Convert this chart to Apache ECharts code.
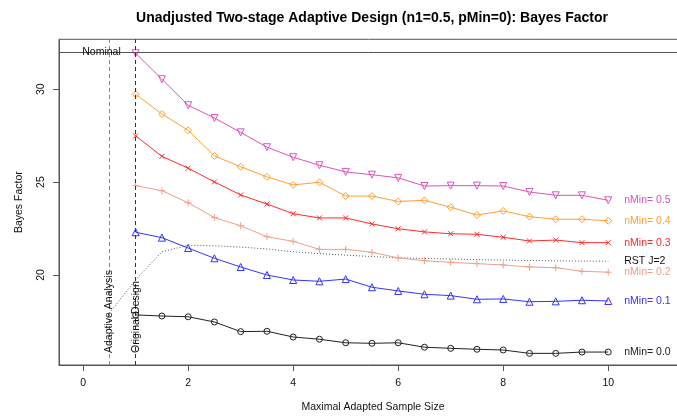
<!DOCTYPE html>
<html>
<head>
<meta charset="utf-8">
<script src="https://cdn.jsdelivr.net/npm/echarts@6/dist/echarts.min.js"></script>
<style>html,body{margin:0;padding:0;background:#fff}#c{width:677px;height:416px}</style>
</head>
<body>
<div id="c"></div>
<script>
const xs = [1,1.5,2,2.5,3,3.5,4,4.5,5,5.5,6,6.5,7,7.5,8,8.5,9,9.5,10];
const nMin05 = [31.94,30.54,29.14,28.45,27.68,26.88,26.34,25.91,25.55,25.40,25.23,24.79,24.81,24.81,24.79,24.47,24.29,24.29,24.02];
const nMin04 = [29.73,28.67,27.79,26.41,25.83,25.28,24.85,24.99,24.25,24.25,23.96,24.02,23.65,23.23,23.45,23.14,23.00,23.00,22.92];
const nMin03 = [27.49,26.39,25.75,25.01,24.31,23.82,23.30,23.07,23.07,22.75,22.49,22.32,22.22,22.19,22.03,21.83,21.88,21.74,21.74];
const nMin02 = [24.81,24.54,23.89,23.09,22.65,22.06,21.81,21.38,21.38,21.22,20.92,20.77,20.68,20.61,20.54,20.43,20.39,20.20,20.15];
const nMin01 = [22.30,22.01,21.45,20.90,20.43,20.00,19.73,19.66,19.78,19.34,19.14,18.96,18.89,18.69,18.71,18.56,18.58,18.64,18.60];
const nMin00 = [17.85,17.79,17.75,17.47,16.95,16.97,16.66,16.54,16.35,16.32,16.35,16.11,16.05,16.00,15.96,15.78,15.78,15.85,15.85];
const rstX = [0.5,1,1.5,2,2.5,3,3.5,4,4.5,5,5.5,6,6.5,7,7.5,8,8.5,9,9.5,10];
const rstJ2 = [17.95,19.75,21.25,21.60,21.57,21.50,21.40,21.25,21.15,21.07,20.99,20.93,20.89,20.86,20.83,20.80,20.78,20.76,20.75,20.74];
const xTicks = [0,2,4,6,8,10];
const yTicks = [20,25,30];
const nominal = 32;
const adaptiveX = 0.5, originalX = 1;

const FONT = '"Liberation Sans", Arial, Helvetica, sans-serif';
const pair = (xa, ya) => xa.map((x, i) => [x, ya[i]]);

function mk(name, data, color, symbol, size, rotate) {
  return {
    type: 'line', name, data: pair(xs, data),
    symbol, symbolSize: size, symbolRotate: rotate || 0,
    lineStyle: {color, width: 1},
    itemStyle: {color: 'rgba(0,0,0,0)', borderColor: color, borderWidth: 1},
    endLabel: {show: true, formatter: name, color, fontSize: 10.5, fontFamily: FONT, distance: 16},
    z: 3
  };
}

const chart = echarts.init(document.getElementById('c'), null, {renderer: 'canvas'});
chart.setOption({
  animation: false,
  backgroundColor: '#fff',
  title: {
    text: 'Unadjusted Two-stage Adaptive Design (n1=0.5, pMin=0): Bayes Factor',
    left: 367, textAlign: 'center', top: 6,
    textStyle: {fontSize: 14, fontWeight: 'bold', color: '#000', fontFamily: FONT}
  },
  grid: {left: 59, width: 628, top: 39.3, height: 325.7, show: true, borderColor: '#555', borderWidth: 1,
         containLabel: false, outerBoundsMode: 'none'},
  xAxis: {
    type: 'value', min: -0.46, max: 11.5,
    splitLine: {show: false}, axisLine: {show: true, onZero: false, lineStyle: {color: '#555'}},
    axisTick: {show: true, customValues: xTicks, length: 6, lineStyle: {color: '#555', width: 1}},
    axisLabel: {customValues: xTicks, margin: 13, color: '#111', fontSize: 10.5, fontFamily: FONT},
    name: 'Maximal Adapted Sample Size', nameLocation: 'middle', nameGap: 37,
    nameTextStyle: {color: '#111', fontSize: 10.5, fontFamily: FONT}
  },
  yAxis: {
    type: 'value', min: 15.153, max: 32.69,
    splitLine: {show: false}, axisLine: {show: true, onZero: false, lineStyle: {color: '#555'}},
    axisTick: {show: true, customValues: yTicks, length: 6, lineStyle: {color: '#555', width: 1}},
    axisLabel: {customValues: yTicks, rotate: 90, margin: 12, color: '#111', fontSize: 10.5, fontFamily: FONT},
    name: 'Bayes Factor', nameLocation: 'middle', nameGap: 34,
    nameTextStyle: {color: '#111', fontSize: 10.5, fontFamily: FONT}
  },
  series: [
    {
      type: 'line', name: 'RST J=2', data: pair(rstX, rstJ2), symbol: 'none',
      lineStyle: {color: '#555', width: 1, type: [1, 2]},
      endLabel: {show: true, formatter: 'RST J=2', color: '#111', fontSize: 10.5, fontFamily: FONT, distance: 16},
      markLine: {
        silent: true, symbol: ['none', 'none'], label: {show: false},
        data: [
          {xAxis: adaptiveX, lineStyle: {color: '#888', width: 1, type: [4, 3]}},
          {xAxis: originalX, lineStyle: {color: '#333', width: 1, type: [4, 3]}},
          {yAxis: nominal, lineStyle: {color: '#555', width: 1, type: 'solid'}}
        ]
      },
      markPoint: {
        silent: true, symbol: 'circle', symbolSize: 0,
        data: [
          {coord: [adaptiveX, 15.8], label: {show: true, position: 'inside', rotate: 90, align: 'left', verticalAlign: 'middle', formatter: 'Adaptive Analysis', color: '#111', fontSize: 10.5, fontFamily: FONT}},
          {coord: [originalX, 15.8], label: {show: true, position: 'inside', rotate: 90, align: 'left', verticalAlign: 'middle', formatter: 'Original Design', color: '#111', fontSize: 10.5, fontFamily: FONT}},
          {coord: [0.35, nominal], label: {show: true, position: 'inside', align: 'center', verticalAlign: 'middle', formatter: 'Nominal', color: '#111', fontSize: 10.5, fontFamily: FONT}}
        ]
      },
      z: 2
    },
    mk('nMin= 0.0', nMin00, '#222222', 'circle', 6),
    mk('nMin= 0.1', nMin01, '#3333FF', 'triangle', 7),
    mk('nMin= 0.2', nMin02, '#F0A088', 'path://M5,0L5,10M0,5L10,5', 7),
    mk('nMin= 0.3', nMin03, '#FF2A2A', 'path://M0,0L10,10M0,10L10,0', 5),
    mk('nMin= 0.4', nMin04, '#FFA030', 'diamond', 7),
    mk('nMin= 0.5', nMin05, '#DD55B8', 'triangle', 7, 180)
  ]
});
</script>
</body>
</html>
